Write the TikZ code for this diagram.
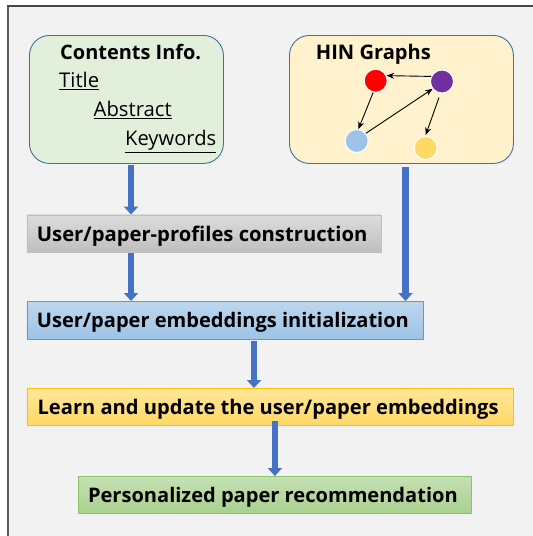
\documentclass[tikz,border=0pt]{standalone}
\usepackage{fontspec}
\usepackage{graphicx}
\setmainfont{Open Sans}
\usetikzlibrary{arrows.meta}

\definecolor{pagebg}{HTML}{F2F2F2}
\definecolor{frameline}{HTML}{595959}
\definecolor{flowblue}{HTML}{4472C4}
\definecolor{panelborder}{HTML}{41719C}
\definecolor{greenpanel}{HTML}{E2EFDA}
\definecolor{yellowpanel}{HTML}{FFF2CC}
\definecolor{grayA}{HTML}{DCDCDC}
\definecolor{grayB}{HTML}{BFBFBF}
\definecolor{blueA}{HTML}{BDD7EE}
\definecolor{blueB}{HTML}{9DC3E6}
\definecolor{blueEdge}{HTML}{5B9BD5}
\definecolor{orangeA}{HTML}{FFE699}
\definecolor{orangeB}{HTML}{FFD966}
\definecolor{orangeEdge}{HTML}{FFC000}
\definecolor{greenA}{HTML}{C5E0B4}
\definecolor{greenB}{HTML}{A9D18E}
\definecolor{greenEdge}{HTML}{8CC26A}
\definecolor{nodeRed}{HTML}{FF0000}
\definecolor{nodePurple}{HTML}{7030A0}
\definecolor{nodeBlue}{HTML}{9DC3E6}
\definecolor{nodeYellow}{HTML}{FFD966}

% text scaled to a given width
\newcommand{\fitw}[2]{\resizebox{#1}{!}{#2}}

\tikzset{
  panel/.style={draw=panelborder, line width=0.9pt, rounded corners=20pt, anchor=north west},
  stagebox/.style={anchor=north west, line width=0.8pt, inner sep=0pt},
  stagetext/.style={anchor=base west, inner sep=0pt, font=\bfseries\fontsize{18}{20}\selectfont, text=black},
  bigarrow/.style={draw=flowblue, line width=6.5pt,
    -{Triangle[width=14pt,length=8pt]}},
  hinnode/.style={circle, minimum size=23pt, inner sep=0pt, draw=white, line width=1pt},
  hinedge/.style={-{Stealth[length=7.5pt,width=6pt]}, line width=0.9pt, black},
  paneltitle/.style={font=\bfseries\fontsize{18}{20}\selectfont, anchor=base west, inner sep=0pt},
  paneltext/.style={font=\fontsize{18}{20}\selectfont, anchor=base west, inner sep=0pt}
}

\begin{document}
\begin{tikzpicture}[x=1pt, y=-1pt]
  \useasboundingbox (0,0) rectangle (533,536);
  % page background and frame lines
  \fill[pagebg] (8,6) rectangle (533,536);
  \draw[frameline, line width=2pt] (8,5.5) -- (8,536);
  \draw[frameline!80!black, line width=1.3pt] (7,6) -- (533,6);

  % input panels
  \node[panel, fill=greenpanel, minimum width=194pt, minimum height=128pt] (contents) at (29,35) {};
  \node[paneltitle] (ctitle) at (60,59.3) {\fitw{141pt}{Contents Info.}};
  \node[paneltext] (ttl) at (59,87.7) {\fitw{40pt}{\underline{Title}}};
  \node[paneltext] (abs) at (93.5,116) {\fitw{78pt}{\underline{Abstract}}};
  \node[paneltext] (kw) at (125,145.7) {\fitw{91pt}{\underline{Keywords}}};

  \node[panel, fill=yellowpanel, minimum width=224pt, minimum height=128pt] (hin) at (289,35) {};
  \node[paneltitle] (htitle) at (315.7,59.3) {\fitw{115pt}{HIN Graphs}};

  % small heterogeneous graph
  \node[hinnode, fill=nodeRed] (red) at (375.7,80.7) {};
  \node[hinnode, fill=nodePurple] (purple) at (442,81.5) {};
  \node[hinnode, fill=nodeBlue] (lblue) at (356.7,141) {};
  \node[hinnode, fill=nodeYellow] (yel) at (425.7,148) {};
  \draw[hinedge] (purple.155) -- (red.25);
  \draw[hinedge] (red.258) -- (lblue.82);
  \draw[hinedge] (lblue.40) -- (purple.218);
  \draw[hinedge] ([xshift=-3pt,yshift=-4pt]purple.south) -- ([yshift=1pt]yel.north);

  % pipeline stages
  \node[stagebox, draw=grayB, top color=grayA, bottom color=grayB,
        minimum width=354pt, minimum height=37.5pt] (s1) at (26.5,214.5) {};
  \node[stagetext] (t1) at (36.7,241.7) {\fitw{330.6pt}{User/paper-profiles construction}};

  \node[stagebox, draw=blueEdge, top color=blueA, bottom color=blueB,
        minimum width=396.5pt, minimum height=38pt] (s2) at (26.5,301) {};
  \node[stagetext] (t2) at (36.7,327.8) {\fitw{372pt}{User/paper embeddings initialization}};

  \node[stagebox, draw=orangeEdge, top color=orangeA, bottom color=orangeB,
        minimum width=486.5pt, minimum height=36.5pt] (s3) at (26.5,388) {};
  \node[stagetext] (t3) at (37.4,414) {\fitw{461pt}{Learn and update the user/paper embeddings}};

  \node[stagebox, draw=greenEdge, top color=greenA, bottom color=greenB,
        minimum width=393pt, minimum height=37pt] (s4) at (78,476) {};
  \node[stagetext] (t4) at (87.8,502.6) {\fitw{369.7pt}{Personalized paper recommendation}};

  % flow arrows
  \coordinate (c1) at (131,165);
  \coordinate (h1) at (405.5,167);
  \coordinate (c3) at (254,340.5);
  \draw[bigarrow] (c1) -- (c1 |- s1.north);
  \draw[bigarrow] (c1 |- s1.south) -- (c1 |- s2.north);
  \draw[bigarrow] (h1) -- (h1 |- s2.north);
  \draw[bigarrow] (c3) -- (c3 |- s3.north);
  \draw[bigarrow] ([yshift=4pt]s3.south -| s4.north) -- (s4.north);
\end{tikzpicture}
\end{document}
